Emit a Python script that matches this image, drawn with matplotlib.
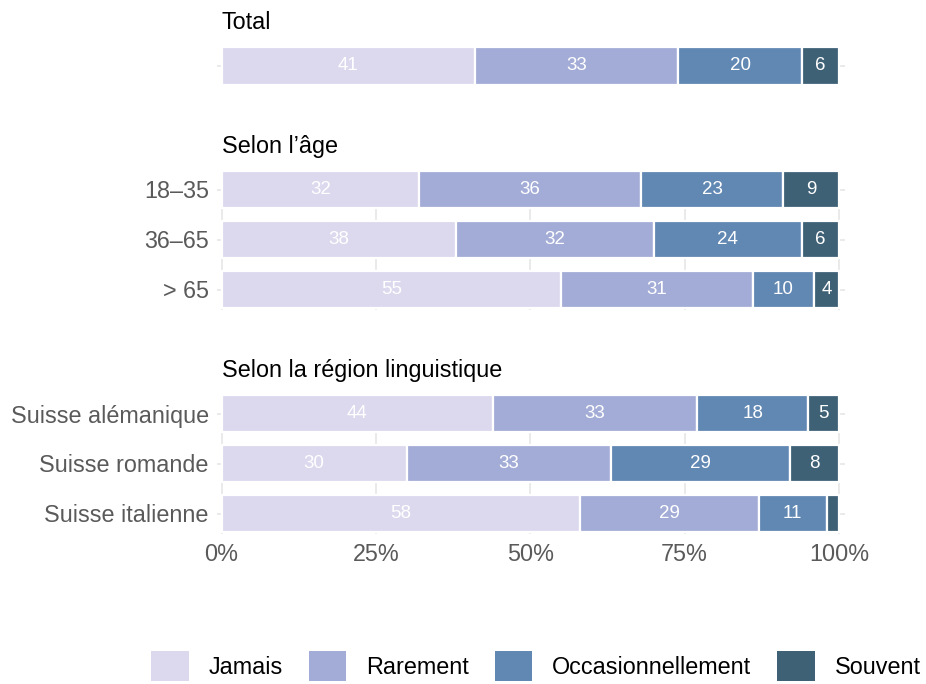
import matplotlib
matplotlib.use("Agg")
import matplotlib.pyplot as plt
from matplotlib.patches import Patch
import numpy as np

plt.rcParams['font.family'] = ['Liberation Sans', 'DejaVu Sans']

series = ["Jamais", "Rarement", "Occasionnellement", "Souvent"]
colors = ["#dcd8ee", "#a3acd6", "#6187b3", "#3f6176"]

panel_titles = ["Total", "Selon l\u2019âge", "Selon la région linguistique"]
panel_cats = [
    [""],
    ["18\u201335", "36\u201365", "> 65"],
    ["Suisse alémanique", "Suisse romande", "Suisse italienne"],
]
panel_vals = [
    [[41, 33, 20, 6]],
    [[32, 36, 23, 9], [38, 32, 24, 6], [55, 31, 10, 4]],
    [[44, 33, 18, 5], [30, 33, 29, 8], [58, 29, 11, 2]],
]
xticks = [0, 25, 50, 75, 100]
xticklabels = ["0%", "25%", "50%", "75%", "100%"]

W, H = 926, 684
fig = plt.figure(figsize=(W / 100, H / 100), dpi=100)

# panel pixel extents (top, bottom)
panel_px = [(46, 86), (169.5, 309.5), (393.5, 533.5)]
left_px, right_px = 217.2, 845.2

grid_c = "#e6e6e6"
tick_c = "#5a5a5a"
FS = 16.8

for i, (cats, vals, title) in enumerate(zip(panel_cats, panel_vals, panel_titles)):
    top, bot = panel_px[i]
    ax = fig.add_axes([left_px / W, 1 - bot / H, (right_px - left_px) / W, (bot - top) / H])
    n = len(cats)
    y = np.arange(n)
    arr = np.array(vals, dtype=float)
    left = np.zeros(n)
    for k in range(len(series)):
        ax.barh(y, arr[:, k], left=left, height=0.75, color=colors[k],
                edgecolor="white", linewidth=1.6, zorder=2)
        for j in range(n):
            v = arr[j, k]
            if v >= 3:
                ax.text(left[j] + v / 2, y[j], f"{int(v)}", ha="center", va="center",
                        color="white", fontsize=13.5, zorder=3)
        left += arr[:, k]
    ax.set_xlim(-0.7, 101)
    ax.set_ylim(n - 1 + 0.4, -0.4)
    ax.set_yticks(y)
    ax.set_yticklabels(cats, fontsize=FS, color=tick_c)
    ax.set_xticks(xticks)
    if i == 2:
        ax.set_xticklabels(xticklabels, fontsize=FS, color=tick_c)
    else:
        ax.set_xticklabels([])
    ax.tick_params(length=0, pad=6)
    ax.tick_params(axis="x", pad=6.5)
    ax.grid(True, color=grid_c, linewidth=1.2, zorder=0)
    ax.set_axisbelow(True)
    for s in ax.spines.values():
        s.set_visible(False)
    ax.set_title(title, loc="left", fontsize=FS, color="black", pad=12,
                 x=(221.5 - left_px) / (right_px - left_px))

handles = [Patch(facecolor=c, edgecolor="none", label=s) for c, s in zip(colors, series)]
fig.legend(handles=handles, loc="center", bbox_to_anchor=(536 / W, 1 - 666 / H), ncol=4,
           frameon=False, fontsize=FS, handlelength=1.59, handleheight=1.59,
           handletextpad=0.86, columnspacing=1.12)

fig.savefig("out.png", dpi=100)
